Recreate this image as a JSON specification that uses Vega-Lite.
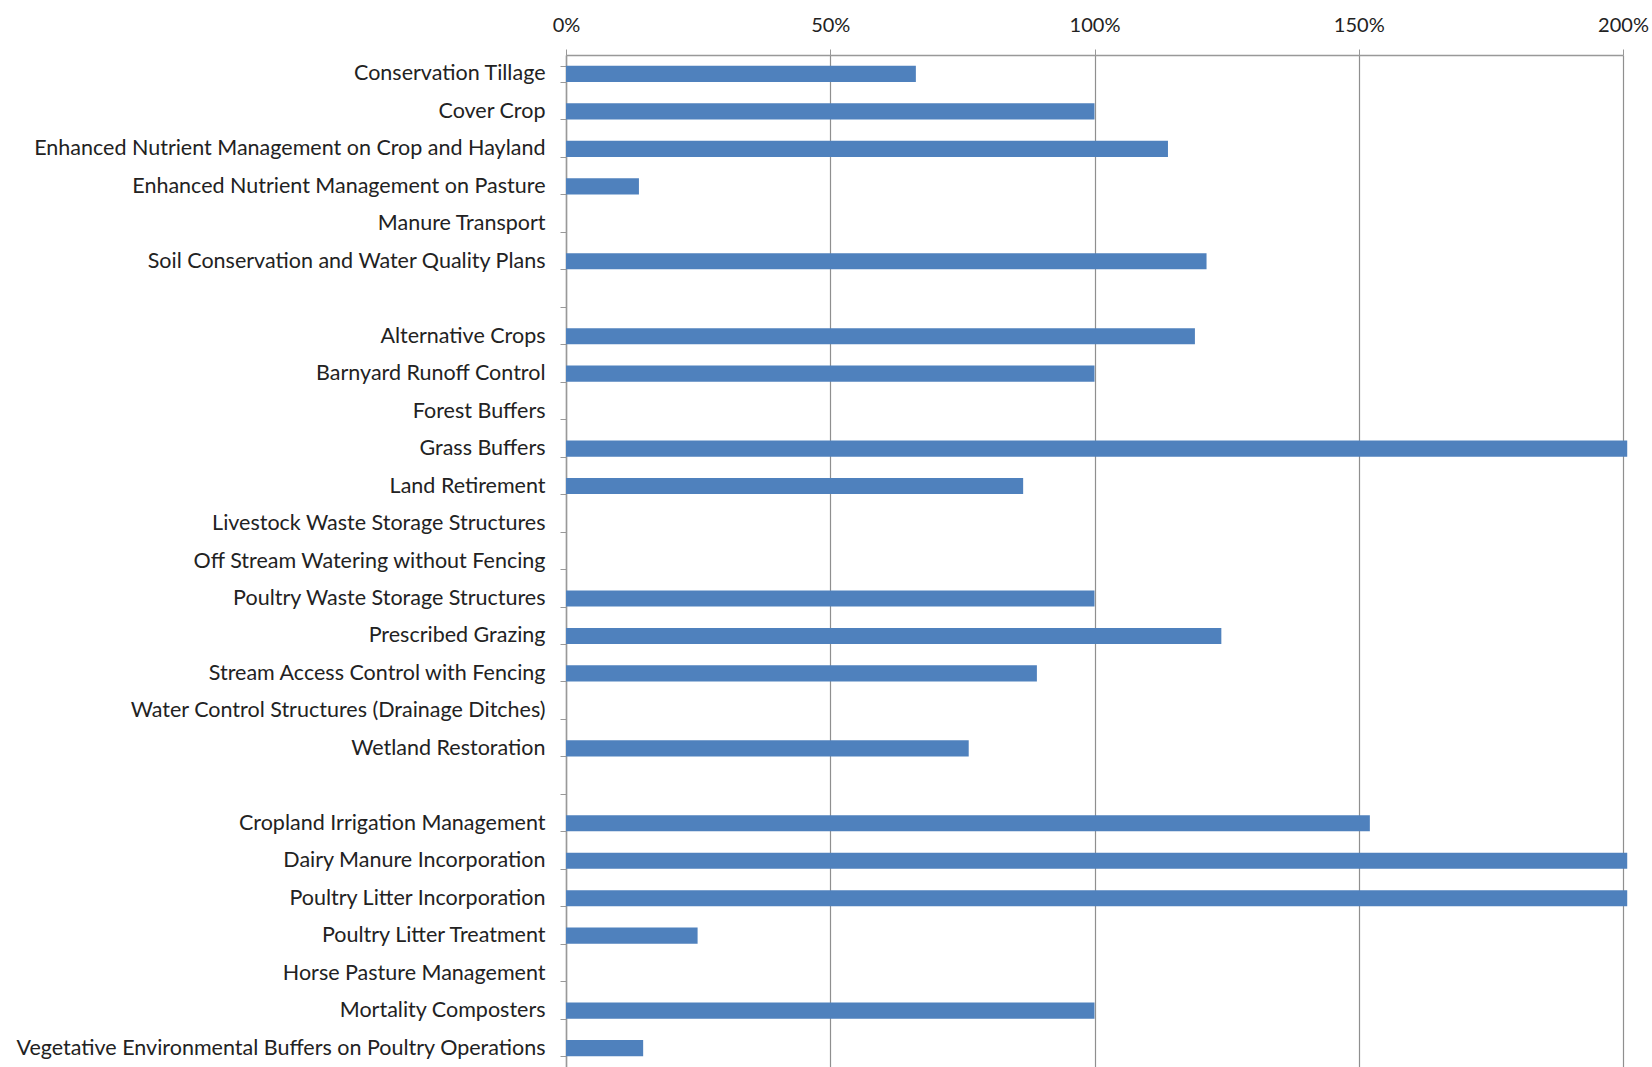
{
  "$schema": "https://vega.github.io/schema/vega-lite/v6.json",
  "autosize": {"type": "none"},
  "width": 1057,
  "height": 1012,
  "padding": {"left": 566, "top": 55, "right": 29, "bottom": 0},
  "background": "white",
  "config": {"view": {"stroke": null}, "font": "Lato"},
  "data": {
    "values": [
      {"practice": "Conservation Tillage", "pct": 66.2},
      {"practice": "Cover Crop", "pct": 100},
      {"practice": "Enhanced Nutrient Management on Crop and Hayland", "pct": 113.9},
      {"practice": "Enhanced Nutrient Management on Pasture", "pct": 13.8},
      {"practice": "Manure Transport", "pct": 0},
      {"practice": "Soil Conservation and Water Quality Plans", "pct": 121.2},
      {"practice": " ", "pct": 0},
      {"practice": "Alternative Crops", "pct": 119.0},
      {"practice": "Barnyard Runoff Control", "pct": 100},
      {"practice": "Forest Buffers", "pct": 0},
      {"practice": "Grass Buffers", "pct": 200.8},
      {"practice": "Land Retirement", "pct": 86.5},
      {"practice": "Livestock Waste Storage Structures", "pct": 0},
      {"practice": "Off Stream Watering without Fencing", "pct": 0},
      {"practice": "Poultry Waste Storage Structures", "pct": 100},
      {"practice": "Prescribed Grazing", "pct": 124.0},
      {"practice": "Stream Access Control with Fencing", "pct": 89.1},
      {"practice": "Water Control Structures (Drainage Ditches)", "pct": 0},
      {"practice": "Wetland Restoration", "pct": 76.2},
      {"practice": "  ", "pct": 0},
      {"practice": "Cropland Irrigation Management", "pct": 152.1},
      {"practice": "Dairy Manure Incorporation", "pct": 200.8},
      {"practice": "Poultry Litter Incorporation", "pct": 200.8},
      {"practice": "Poultry Litter Treatment", "pct": 24.9},
      {"practice": "Horse Pasture Management", "pct": 0},
      {"practice": "Mortality Composters", "pct": 100},
      {"practice": "Vegetative Environmental Buffers on Poultry Operations", "pct": 14.6}
    ]
  },
  "mark": {"type": "bar", "color": "#4F81BD", "clip": false},
  "encoding": {
    "y": {
      "field": "practice",
      "type": "nominal",
      "sort": null,
      "scale": {"paddingInner": 0.57, "paddingOuter": 0.29},
      "axis": {
        "title": null,
        "orient": "left",
        "labelFontSize": 21.5,
        "labelColor": "#222222",
        "labelPadding": 15,
        "labelLimit": 600,
        "tickBand": "extent",
        "tickColor": "#999999",
        "tickSize": 6,
        "domainColor": "#999999",
        "domainWidth": 1.5,
        "grid": false
      }
    },
    "x": {
      "field": "pct",
      "type": "quantitative",
      "scale": {"domain": [0, 200], "nice": false},
      "axis": {
        "title": null,
        "orient": "top",
        "values": [0, 50, 100, 150, 200],
        "labelExpr": "datum.value + '%'",
        "labelFontSize": 20,
        "labelFlush": false,
        "labelOverlap": false,
        "labelColor": "#222222",
        "labelPadding": 14,
        "tickColor": "#999999",
        "tickSize": 6,
        "domainColor": "#999999",
        "domainWidth": 1.5,
        "grid": true,
        "gridColor": "#8f8f8f",
        "gridWidth": 1.2
      }
    }
  }
}
